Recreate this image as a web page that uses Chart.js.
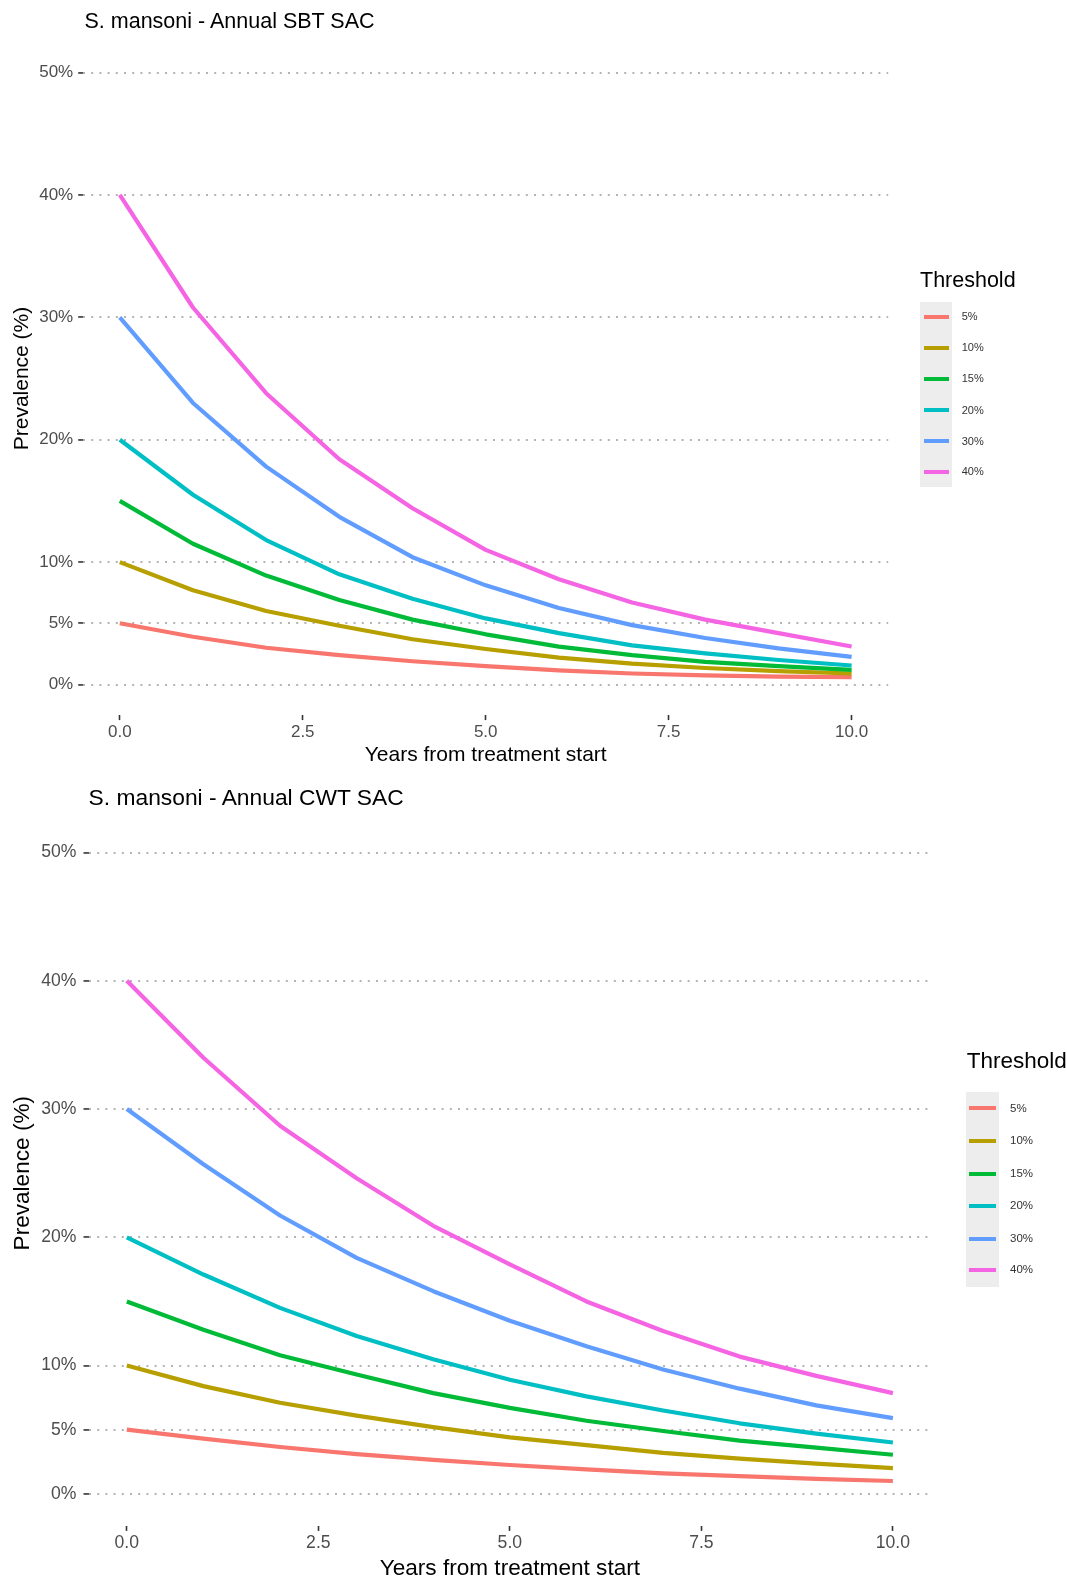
<!DOCTYPE html>
<html><head><meta charset="utf-8">
<script src="https://cdn.jsdelivr.net/npm/chart.js@4.4.1/dist/chart.umd.min.js"></script>
<style>
html,body{margin:0;padding:0;background:#fff;}
body{width:1067px;height:1578px;position:relative;overflow:hidden;font-family:'Liberation Sans',Arial,Helvetica,sans-serif;}
canvas{position:absolute;left:0;}
.t{position:absolute;white-space:nowrap;color:#000;}
.box{position:absolute;background:#ededed;}
.key{position:absolute;}
.lab{position:absolute;white-space:nowrap;color:#333;}
</style></head><body>
<canvas id="c1" width="1067" height="775" style="top:0px"></canvas>
<canvas id="c2" width="1067" height="803" style="top:775px"></canvas>
<div id="html"></div>
<script>
// ---- data ----
const years = [0, 1, 2, 3, 4, 5, 6, 7, 8, 9, 10];
const thresholds = ['5%', '10%', '15%', '20%', '30%', '40%'];
const colors = ['#F8766D', '#B79F00', '#00BA38', '#00BFC4', '#619CFF', '#F564E3'];
const yTicks = [0, 5, 10, 20, 30, 40, 50];
const xTicks = [0, 2.5, 5, 7.5, 10];
const titles = ['S. mansoni - Annual SBT SAC', 'S. mansoni - Annual CWT SAC'];
const xTitle = 'Years from treatment start';
const yTitle = 'Prevalence (%)';
const legendTitle = 'Threshold';

// Annual SBT SAC
const sbt_5  = [5, 3.9, 3.0, 2.4, 1.9, 1.5, 1.15, 0.9, 0.75, 0.65, 0.6];
const sbt_10 = [10, 7.7, 6.0, 4.8, 3.7, 2.9, 2.2, 1.7, 1.35, 1.1, 0.9];
const sbt_15 = [15, 11.5, 8.9, 6.9, 5.3, 4.1, 3.1, 2.4, 1.85, 1.5, 1.2];
const sbt_20 = [20, 15.5, 11.8, 9.0, 7.0, 5.4, 4.2, 3.2, 2.55, 2.0, 1.55];
const sbt_30 = [30, 23.0, 17.8, 13.7, 10.4, 8.1, 6.25, 4.85, 3.8, 2.95, 2.25];
const sbt_40 = [40, 30.8, 23.8, 18.4, 14.4, 11.0, 8.6, 6.7, 5.3, 4.2, 3.1];

// Annual CWT SAC
const cwt_5  = [5, 4.3, 3.65, 3.1, 2.65, 2.25, 1.9, 1.6, 1.38, 1.17, 1.0];
const cwt_10 = [10, 8.4, 7.1, 6.1, 5.2, 4.4, 3.8, 3.2, 2.75, 2.35, 2.0];
const cwt_15 = [15, 12.8, 10.8, 9.3, 7.85, 6.7, 5.7, 4.9, 4.15, 3.6, 3.05];
const cwt_20 = [20, 17.1, 14.5, 12.3, 10.5, 8.9, 7.6, 6.5, 5.5, 4.7, 4.0];
const cwt_30 = [30, 25.7, 21.7, 18.4, 15.8, 13.5, 11.5, 9.7, 8.2, 6.9, 5.9];
const cwt_40 = [40, 34.0, 28.7, 24.6, 20.9, 17.9, 15.0, 12.7, 10.7, 9.2, 7.85];

const sbtSeries = [sbt_5, sbt_10, sbt_15, sbt_20, sbt_30, sbt_40];
const cwtSeries = [cwt_5, cwt_10, cwt_15, cwt_20, cwt_30, cwt_40];

// ---- drawing ----
Chart.defaults.font.family = "'Liberation Sans', Arial, Helvetica, sans-serif";
Chart.defaults.color = '#4d4d4d';

function makeChart(id, series, g) {
  const datasets = series.map((vals, i) => ({
    label: thresholds[i],
    data: years.map((x, j) => ({x: x, y: vals[j]})),
    borderColor: colors[i],
    backgroundColor: colors[i],
    borderWidth: g.lw,
    borderJoinStyle: 'round',
    pointRadius: 0,
    tension: 0,
    fill: false,
    order: -i
  }));
  return new Chart(document.getElementById(id), {
    type: 'line',
    data: {datasets},
    options: {
      responsive: false,
      animation: false,
      devicePixelRatio: 1,
      layout: {padding: {left: 0, top: g.top, right: g.right, bottom: 0}},
      plugins: {legend: {display: false}, tooltip: {enabled: false}, title: {display: false}},
      scales: {
        x: {
          type: 'linear', min: -0.5, max: 10.5,
          afterBuildTicks: s => { s.ticks = xTicks.map(v => ({value: v})); },
          afterFit: s => { s.height = g.xh; },
          ticks: {font: {size: g.tick}, color: '#4d4d4d', padding: g.xpad, maxRotation: 0,
                  callback: v => Number(v).toFixed(1)},
          grid: {drawOnChartArea: false, tickLength: 5, tickColor: '#333', tickWidth: 1.6},
          border: {display: false},
          title: {display: true, text: xTitle, color: '#000', font: {size: g.ttl, lineHeight: 1},
                  padding: {top: 0, bottom: g.xtb}}
        },
        y: {
          type: 'linear', min: -2.5, max: 52.5,
          afterBuildTicks: s => { s.ticks = yTicks.map(v => ({value: v})); },
          afterFit: s => { s.width = g.left; },
          ticks: {font: {size: g.tick}, color: '#4d4d4d', padding: g.ypad,
                  callback: v => v + '%'},
          grid: {color: '#b3b3b3', lineWidth: 1.9, tickLength: 5, tickColor: '#333', tickWidth: 1.6},
          border: {display: false, dash: [2, 6.2]},
          title: {display: true, text: yTitle, color: '#000', font: {size: g.ttl, lineHeight: 1},
                  padding: {top: g.ytp, bottom: 0}}
        }
      }
    }
  });
}

makeChart('c1', sbtSeries, {top: 41.9, right: 178.8, left: 83.2, xh: 59.9, tick: 17, ttl: 21, lw: 4.2,
  xpad: 2, ypad: 5, xtb: 9.5, ytp: 12});
makeChart('c2', cwtSeries, {top: 45.5, right: 135.8, left: 88.5, xh: 52.1, tick: 17.6, ttl: 22.6, lw: 4.2,
  xpad: 2, ypad: 7, xtb: -2, ytp: 11.2});

// ---- titles and legends (HTML text) ----
const host = document.getElementById('html');
function addText(txt, left, cy, size, cls) {
  const d = document.createElement('div');
  d.className = cls || 't';
  d.textContent = txt;
  d.style.left = left + 'px';
  d.style.top = (cy - size / 2) + 'px';
  d.style.fontSize = size + 'px';
  d.style.lineHeight = size + 'px';
  host.appendChild(d);
}
function addLegend(L) {
  addText(legendTitle, L.titleX, L.titleY, L.titleSize);
  const b = document.createElement('div');
  b.className = 'box';
  Object.assign(b.style, {left: L.boxX + 'px', top: L.boxY + 'px', width: L.boxW + 'px', height: L.boxH + 'px'});
  host.appendChild(b);
  thresholds.forEach((t, i) => {
    const cy = L.itemY[i];
    const k = document.createElement('div');
    k.className = 'key';
    Object.assign(k.style, {left: L.keyX + 'px', top: (cy - 2) + 'px', width: L.keyW + 'px', height: '4px', background: colors[i]});
    host.appendChild(k);
    addText(t, L.labX, cy, L.labSize, 'lab');
  });
}
addText(titles[0], 84.5, 21.5, 21.5);
addText(titles[1], 88.6, 797, 22.8);
addLegend({titleX: 920, titleY: 281, titleSize: 21.5, boxX: 920, boxY: 301.7, boxW: 32, boxH: 185,
  keyX: 923.5, keyW: 25.5, labX: 961.7, labSize: 11,
  itemY: [316.7, 347.7, 378.5, 410, 441, 471.7]});
addLegend({titleX: 966.7, titleY: 1061.7, titleSize: 22.5, boxX: 966, boxY: 1091.7, boxW: 33, boxH: 195,
  keyX: 969, keyW: 26.7, labX: 1010, labSize: 11.5,
  itemY: [1108.3, 1140.7, 1174, 1205.7, 1239, 1270]});
</script>
</body></html>
